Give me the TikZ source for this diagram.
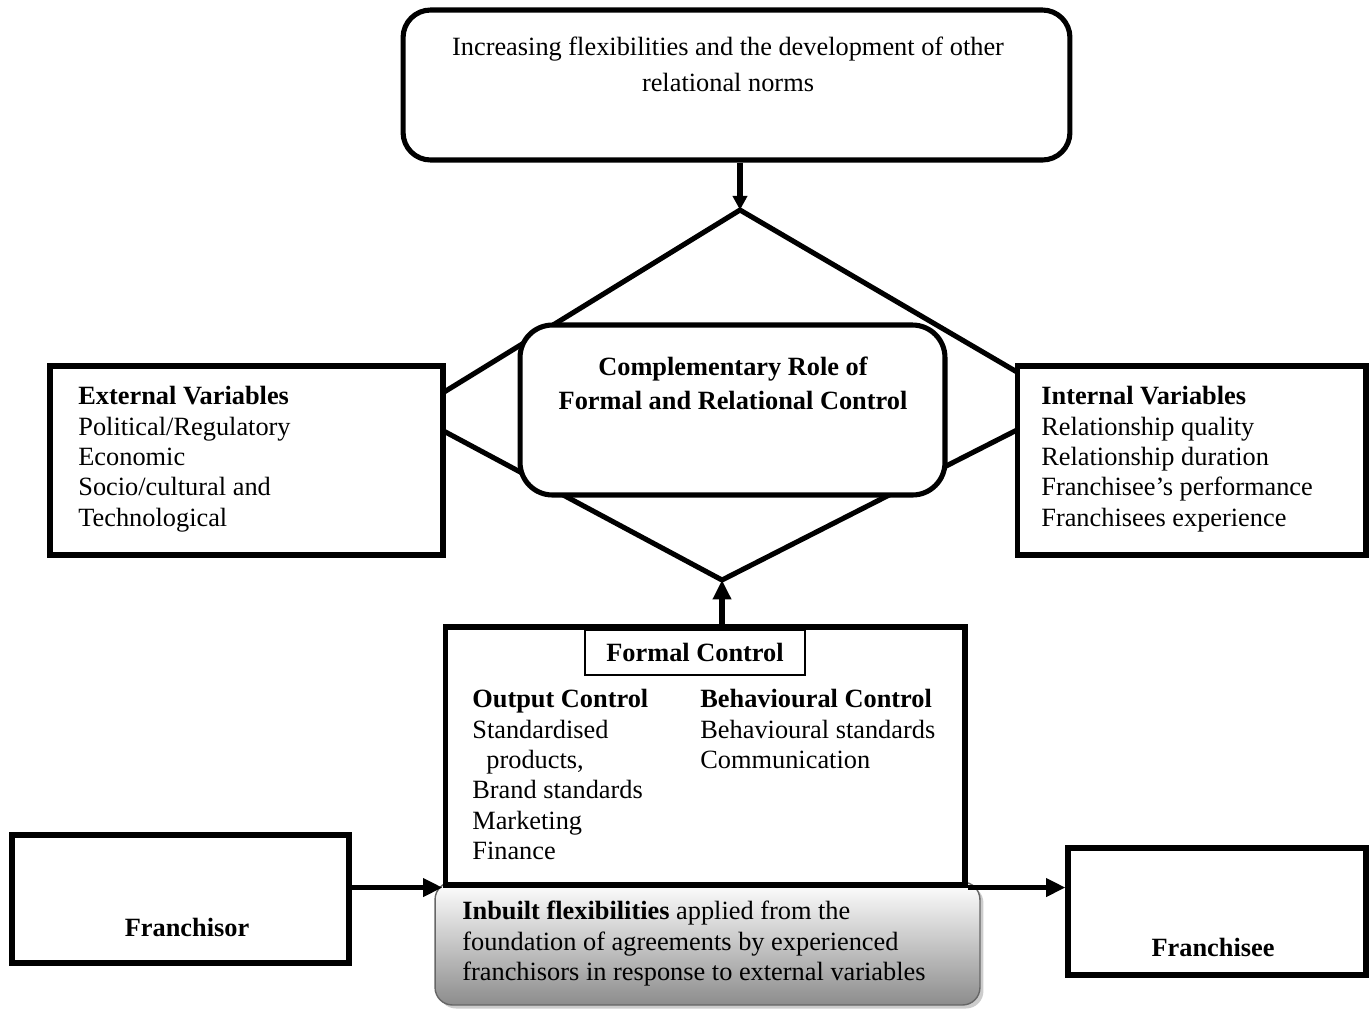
\documentclass[tikz,border=0pt]{standalone}
\usepackage{fontspec}
\setmainfont{Liberation Serif}
\usepackage{tikz}
\usetikzlibrary{arrows.meta,positioning,shadows}

\begin{document}
\begin{tikzpicture}[x=0.02cm, y=-0.02cm,
  every node/.style={font=\fontsize{15}{17.3}\selectfont},
  box/.style={draw, line width=2.9pt, fill=white, inner sep=0pt},
  rbox/.style={box, rounded corners=0.55cm},
  txt/.style={align=left, anchor=north west, inner sep=0pt},
  arr/.style={-{Triangle[length=11pt,width=10pt]}, line width=2.9pt},
]
\useasboundingbox (0,0) rectangle (1369,1009);

% diamond behind the boxes
\coordinate (dtop) at (740,210);
\coordinate (dleft) at (410,413);
\coordinate (dbot) at (722,580);
\coordinate (dright) at (1070,403);
\draw[line width=2.9pt, line join=round] (dtop) -- (dleft) -- (dbot) -- (dright) -- cycle;

% top box
\node[rbox, minimum width=13.34cm, minimum height=3cm] (goal) at (736.5,85) {};
\node[align=center, font=\fontsize{15}{20.4}\selectfont] (goaltext) at (728,64)
  {Increasing flexibilities and the development of other\\ relational norms};

% centre box
\node[rbox, rounded corners=0.65cm, minimum width=8.5cm, minimum height=3.4cm] (core) at (732.5,410) {};
\node[align=center, font=\fontsize{15}{19.5}\selectfont\bfseries] (coretext) at (733,383)
  {Complementary Role of\\ Formal and Relational Control};

% side boxes
\node[box, minimum width=7.86cm, minimum height=3.78cm] (ext) at (246.5,460.5) {};
\node[txt] (exttext) at (78,386)
  {\textbf{External Variables}\\ Political/Regulatory\\ Economic\\ Socio/cultural and\\ Technological};
\node[box, minimum width=6.98cm, minimum height=3.78cm] (int) at (1191.5,460.5) {};
\node[txt] (inttext) at (1041,386)
  {\textbf{Internal Variables}\\ Relationship quality\\ Relationship duration\\ Franchisee’s performance\\ Franchisees experience};

% inbuilt flexibilities
\node[draw=black!60, line width=0.8pt, rounded corners=0.35cm, top color=white, bottom color=black!45,
  drop shadow={opacity=0.4, shadow xshift=2pt, shadow yshift=-2pt},
  minimum width=10.9cm, minimum height=2.46cm, inner sep=0pt] (inbuilt) at (707.5,943.5) {};
\node[txt] (inbuilttext) at (462,901)
  {\textbf{Inbuilt flexibilities} applied from the\\ foundation of agreements by experienced\\ franchisors in response to external variables};

% formal control
\node[box, minimum width=10.4cm, minimum height=5.16cm] (formal) at (705,756) {};
\node[draw, line width=0.8pt, fill=white, minimum width=4.4cm, minimum height=0.9cm,
  font=\fontsize{15}{17.3}\selectfont\bfseries] (formaltitle) at (695,652.5) {Formal Control};
\node[txt] (output) at (472,689)
  {\textbf{Output Control}\\ Standardised\\ \hspace*{8pt}products,\\ Brand standards\\ Marketing\\ Finance};
\node[txt] (behav) at (700,689)
  {\textbf{Behavioural Control}\\ Behavioural standards\\ Communication};

% parties
\node[box, minimum width=6.74cm, minimum height=2.56cm] (franchisor) at (180.5,899) {};
\node[font=\fontsize{15}{17.3}\selectfont\bfseries] (franchisortext) at (187,927) {Franchisor};
\node[box, minimum width=5.96cm, minimum height=2.54cm] (franchisee) at (1217,911.5) {};
\node[font=\fontsize{15}{17.3}\selectfont\bfseries] (franchiseetext) at (1213,947) {Franchisee};

% connectors
\draw[arr, -{Triangle[length=8pt,width=8pt]}] (goal.south -| dtop) -- (dtop);
\draw[arr] (formal.north -| dbot) -- (dbot);
\draw[arr] (franchisor.east |- formal.south) -- (formal.south west);
\draw[arr] (formal.south east) -- (franchisee.west |- formal.south);
\end{tikzpicture}
\end{document}
